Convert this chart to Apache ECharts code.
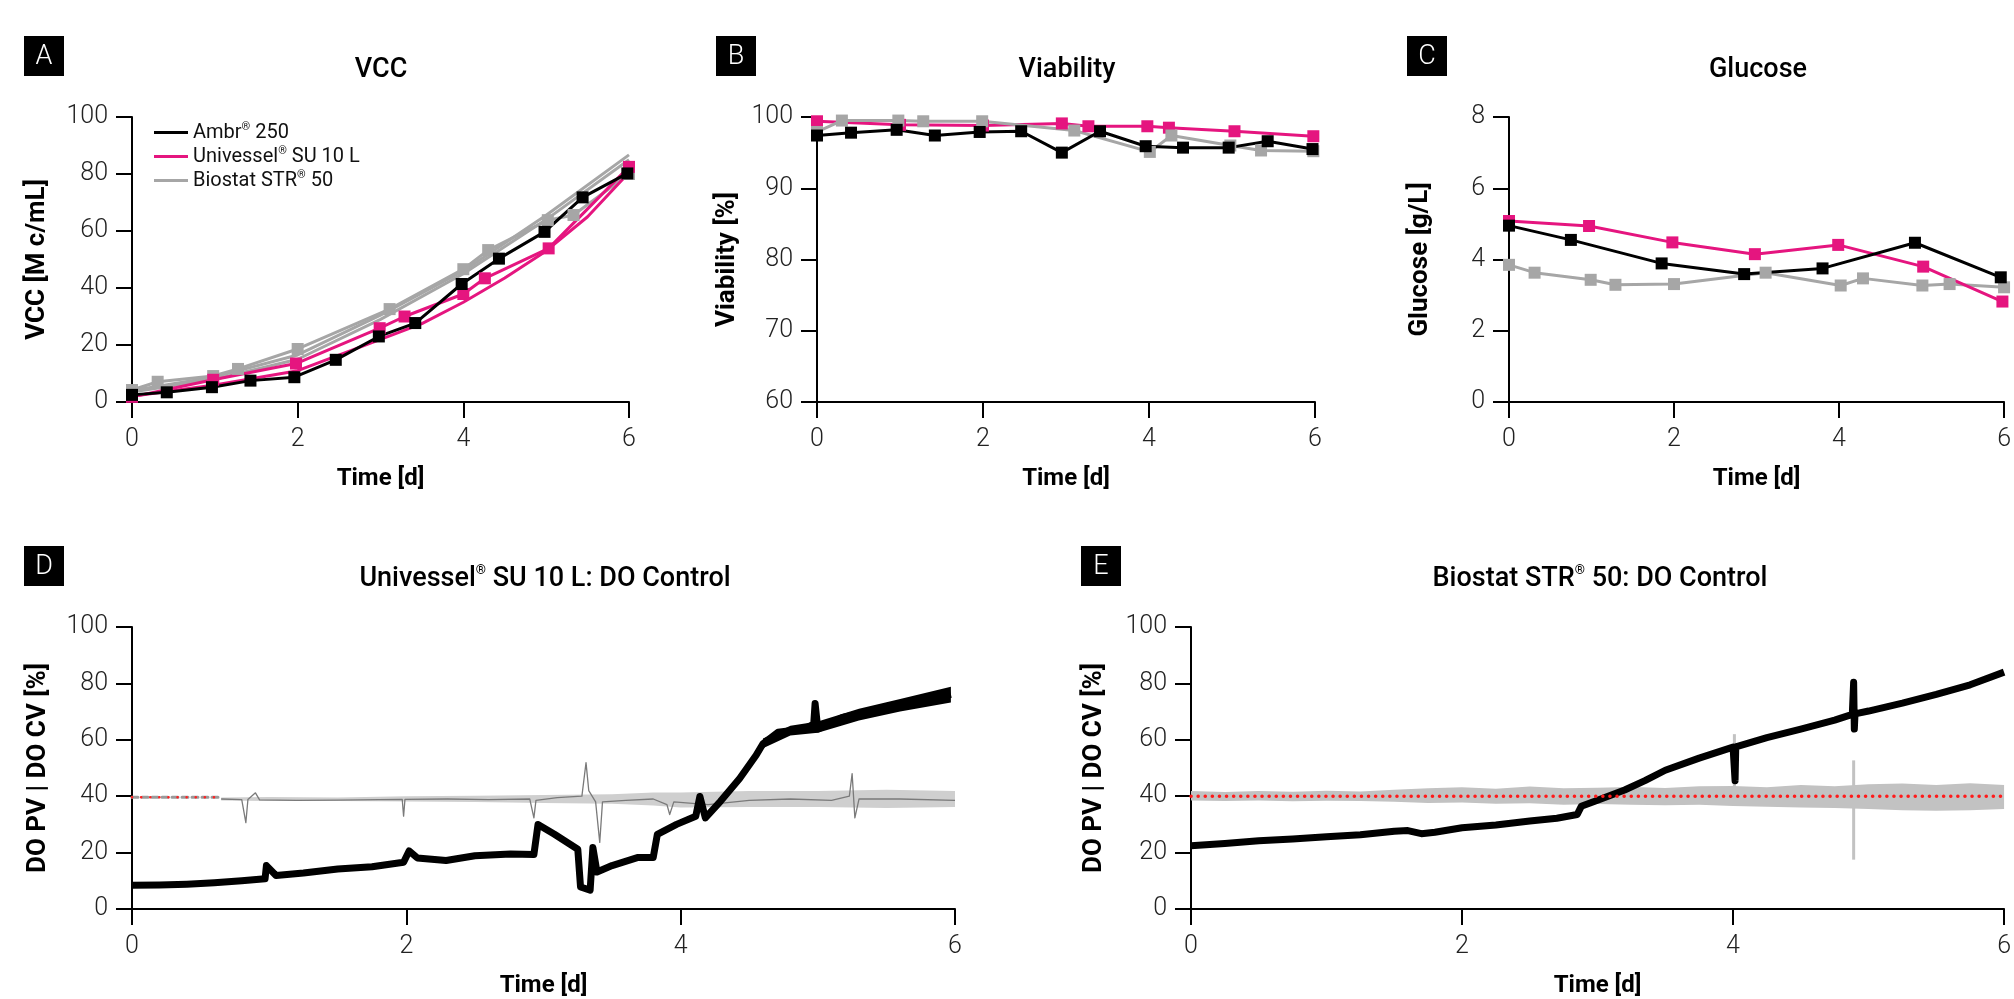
<!DOCTYPE html>
<html><head><meta charset="utf-8">
<script src="https://cdn.jsdelivr.net/npm/echarts@6/dist/echarts.min.js"></script>
<style>html,body{margin:0;padding:0;background:#fff}#c{width:2014px;height:999px}</style>
</head><body><div id="c"></div>
<script>
// ---------------- DATA ----------------
const timeTicks = [0, 2, 4, 6];
const vccTicks = [0, 20, 40, 60, 80, 100];
const viaTicks = [60, 70, 80, 90, 100];
const gluTicks = [0, 2, 4, 6, 8];
const doTicks = [0, 20, 40, 60, 80, 100];

const platformNames = ['Ambr® 250', 'Univessel® SU 10 L', 'Biostat STR® 50'];

// A: VCC [M c/mL]  [day, value]
const vccAmbr = [[0,2.5],[0.42,3.4],[0.965,5.2],[1.43,7.5],[1.96,8.7],[2.46,14.8],[2.98,23.0],[3.42,27.7],[3.98,41.4],[4.43,50.3],[4.98,59.7],[5.44,71.8],[5.98,80.2]];
const vccUni = [[0,1.8],[0.98,7.8],[1.98,13.5],[2.99,25.9],[3.29,30.0],[4.0,37.9],[4.26,43.4],[5.03,53.9],[6.0,82.5]];
const vccUniRep = [[0,2.0],[1,6.0],[2,11.0],[3,22.0],[3.5,27.5],[4,35.0],[4.5,43.5],[5,53.0],[5.5,65.0],[6,80.5]];
const vccBio = [[0,4.2],[0.31,7.1],[0.98,9.1],[1.28,11.6],[2.0,18.6],[3.11,32.6],[4.0,46.6],[4.3,53.3],[5.02,63.8],[5.33,65.6],[6.0,80.0]];
const vccBioRepA = [[0,4.0],[1,8.8],[2,16.5],[3,30.5],[4,46.0],[5,65.5],[6,86.7]];
const vccBioRepB = [[0,3.5],[1,8.0],[2,15.0],[3,29.0],[4,45.0],[5,64.0],[6,85.0]];

// B: Viability [%]
const viaAmbr = [[0,97.4],[0.41,97.8],[0.96,98.2],[1.42,97.4],[1.96,97.9],[2.46,98.0],[2.95,95.0],[3.41,98.0],[3.96,95.9],[4.41,95.7],[4.96,95.7],[5.43,96.6],[5.97,95.5]];
const viaUni = [[0,99.4],[1,98.9],[2,98.8],[2.95,99.1],[3.27,98.7],[3.98,98.7],[4.24,98.5],[5.03,98.0],[5.98,97.3]];
const viaBio = [[0,97.9],[0.3,99.5],[0.98,99.5],[1.28,99.4],[1.99,99.4],[3.1,98.1],[4.01,95.1],[4.27,97.4],[4.98,96.0],[5.35,95.3],[5.98,95.2]];

// C: Glucose [g/L]
const gluAmbr = [[0,4.95],[0.75,4.55],[1.85,3.89],[2.85,3.59],[3.8,3.75],[4.92,4.47],[5.96,3.50]];
const gluUni = [[0,5.08],[0.97,4.94],[1.98,4.48],[2.98,4.15],[3.99,4.41],[5.02,3.80],[5.98,2.82]];
const gluBio = [[0,3.85],[0.31,3.63],[0.99,3.43],[1.29,3.29],[2.0,3.31],[3.11,3.63],[4.02,3.27],[4.29,3.47],[5.01,3.27],[5.34,3.31],[6.0,3.22]];

// D: Univessel SU 10 L DO control
const dPv = [[0,8.4],[0.2,8.5],[0.4,8.8],[0.6,9.3],[0.8,10.0],[0.97,10.7],[0.98,15.4],[1.05,11.9],[1.25,12.8],[1.5,14.2],[1.75,15.0],[1.98,16.6],[2.02,20.6],[2.08,18.1],[2.29,17.2],[2.5,18.9],[2.76,19.5],[2.93,19.3],[2.96,30.0],[3.08,26.5],[3.25,21.2],[3.27,7.8],[3.34,6.7],[3.36,21.8],[3.39,13.1],[3.5,15.4],[3.69,18.3],[3.8,18.3],[3.83,26.5],[3.97,30.0],[4.11,32.9],[4.14,39.9],[4.18,32.3],[4.29,38.2],[4.43,46.3],[4.55,54.5],[4.6,58.6],[4.71,62.7],[4.9,63.8],[4.97,65.6],[4.98,72.9],[5.0,63.8],[5.18,67.9],[5.46,70.8],[5.73,73.2],[5.97,76.1]];
const dPvBand = [[4.6,57.0,60.5],[4.8,61.5,65.0],[5.0,62.5,66.5],[5.3,66.8,71.0],[5.6,70.0,74.5],[5.97,73.2,78.8]];
const dCv = [[0.65,39.0],[0.8,38.8],[0.83,30.6],[0.845,38.8],[0.9,41.2],[0.93,38.7],[1.2,38.5],[1.5,38.6],[1.8,38.8],[1.97,38.9],[1.98,32.9],[1.99,38.9],[2.3,39.0],[2.6,38.8],[2.9,39.0],[2.93,32.3],[2.945,38.5],[3.1,39.5],[3.28,40.0],[3.31,51.9],[3.33,42.0],[3.38,38.0],[3.41,23.6],[3.43,38.0],[3.6,38.5],[3.8,39.0],[3.9,37.0],[3.92,33.5],[3.95,38.0],[4.2,37.0],[4.5,38.5],[4.8,39.0],[5.1,38.5],[5.23,40.0],[5.25,48.0],[5.27,32.3],[5.3,39.0],[5.6,39.0],[6.0,38.5]];
const dCvBand = [[0.65,38.5,39.5],[1.0,38.3,39.7],[1.5,38.3,39.5],[2.0,38.1,40.0],[2.5,37.9,40.2],[3.0,37.6,40.4],[3.5,37.3,40.7],[3.8,36.7,41.3],[4.0,36.0,41.3],[4.5,36.2,41.8],[5.0,36.2,41.8],[5.5,35.8,42.3],[6.0,36.2,41.8]];
const dSetpoint = [[0,39.6],[0.65,39.6]];

// E: Biostat STR 50 DO control
const ePv = [[0,22.4],[0.25,23.2],[0.5,24.2],[0.75,24.8],[1.0,25.6],[1.25,26.3],[1.5,27.6],[1.6,27.8],[1.7,26.7],[1.8,27.2],[2.0,28.8],[2.25,29.8],[2.5,31.2],[2.7,32.2],[2.85,33.5],[2.88,36.4],[3.0,38.6],[3.2,42.2],[3.35,45.5],[3.5,49.2],[3.75,53.5],[4.0,57.4],[4.01,57.4],[4.015,45.5],[4.02,57.5],[4.25,60.8],[4.5,63.8],[4.75,67.0],[4.88,69.0],[4.89,80.4],[4.895,63.8],[4.9,69.2],[5.0,70.2],[5.25,73.0],[5.5,76.1],[5.75,79.5],[6.0,84.0]];
const eCvBand = [[0,38.5,41.8],[0.25,38.3,41.5],[0.5,38.5,41.8],[0.75,38.2,41.6],[1.0,38.4,41.9],[1.25,38.3,41.7],[1.5,38.0,42.3],[1.75,37.6,42.8],[2.0,37.8,43.2],[2.25,37.3,42.6],[2.5,37.5,43.4],[2.75,37.0,42.8],[3.0,37.2,43.0],[3.25,37.0,43.3],[3.5,36.8,42.9],[3.75,37.0,43.5],[4.0,36.5,43.6],[4.25,36.3,43.2],[4.5,36.0,44.0],[4.75,35.8,43.5],[5.0,35.5,44.2],[5.25,35.0,44.5],[5.5,34.8,44.0],[5.75,35.0,44.6],[6.0,35.5,44.0]];
const eCvSpikes = [[4.01,40,62],[4.89,17.5,52.7]];
const eSetpoint = [[0,40],[6,40]];

// ---------------- STYLE ----------------
const FONT = 'Roboto, "Noto Sans", "DejaVu Sans", sans-serif';
const BLACK = '#000000', PINK = '#e5157f', GREY = '#a6a6a6';

const grids = [
  {left:132, top:117, width:497, height:285},
  {left:817, top:117, width:498, height:285},
  {left:1509, top:117, width:496, height:285},
  {left:132, top:627, width:823, height:285},
  {left:1191, top:627, width:814, height:285}
];

function mkX(i) {
  return {type:'value', gridIndex:i, min:timeTicks[0], max:timeTicks[timeTicks.length-1], interval:timeTicks[1]-timeTicks[0],
    name:'Time [d]', nameLocation:'middle', nameGap:65,
    nameTextStyle:{fontFamily:FONT, fontSize:24, fontWeight:'bold', color:'#000'},
    axisLine:{onZero:false, lineStyle:{color:'#000', width:2}},
    axisTick:{length:16, lineStyle:{color:'#000', width:2}},
    axisLabel:{margin:25, fontFamily:FONT, fontSize:25, fontWeight:300, color:'#222'},
    splitLine:{show:false}};
}
function mkY(i, name, ticks, gap) {
  return {type:'value', gridIndex:i, min:ticks[0], max:ticks[ticks.length-1], interval:ticks[1]-ticks[0],
    name:name, nameLocation:'middle', nameGap:gap,
    nameTextStyle:{fontFamily:FONT, fontSize:26, fontWeight:'bold', color:'#000'},
    axisLine:{onZero:false, lineStyle:{color:'#000', width:2}},
    axisTick:{length:16, lineStyle:{color:'#000', width:2}},
    axisLabel:{margin:24, fontFamily:FONT, fontSize:25, fontWeight:300, color:'#222'},
    splitLine:{show:false}};
}
function mk(i, name, data, color, marker) {
  return {type:'line', name:name, xAxisIndex:i, yAxisIndex:i, data:data, silent:true,
    symbol: marker ? 'rect' : 'none', symbolSize:12, showSymbol: !!marker,
    lineStyle:{color:color, width:3}, itemStyle:{color:color}};
}
function trace(i, name, data, color, width) {
  return {type:'line', name:name, xAxisIndex:i, yAxisIndex:i, data:data, silent:true, symbol:'none', showSymbol:false,
    lineStyle:{color:color, width:width, join:'round'}, itemStyle:{color:color}};
}
function band(i, name, data, color) {
  return {type:'custom', name:name, xAxisIndex:i, yAxisIndex:i, data:data, silent:true, encode:{x:0, y:[1,2]},
    renderItem:function(params, api){
      if (params.dataIndex !== 0) return null;
      const pts = [];
      for (let k = 0; k < data.length; k++) pts.push(api.coord([data[k][0], data[k][2]]));
      for (let k = data.length-1; k >= 0; k--) pts.push(api.coord([data[k][0], data[k][1]]));
      return {type:'polygon', shape:{points:pts}, style:{fill:color}};
    }};
}
function spikes(i, name, data, color, width) {
  return {type:'custom', name:name, xAxisIndex:i, yAxisIndex:i, data:data, silent:true, encode:{x:0, y:[1,2]},
    renderItem:function(params, api){
      const a = api.coord([api.value(0), api.value(1)]);
      const b = api.coord([api.value(0), api.value(2)]);
      return {type:'line', shape:{x1:a[0], y1:a[1], x2:b[0], y2:b[1]}, style:{stroke:color, lineWidth:width}};
    }};
}
function dotted(i, name, data, color, width, dash) {
  return {type:'line', name:name, xAxisIndex:i, yAxisIndex:i, data:data, silent:true, symbol:'none', showSymbol:false,
    lineStyle:{color:color, width:width, type:dash, cap:'round'}};
}

const series = [
  // A
  mk(0, platformNames[2], vccBioRepB, GREY, false),
  mk(0, platformNames[2], vccBioRepA, GREY, false),
  mk(0, platformNames[2], vccBio, GREY, true),
  mk(0, platformNames[1], vccUniRep, PINK, false),
  mk(0, platformNames[1], vccUni, PINK, true),
  mk(0, platformNames[0], vccAmbr, BLACK, true),
  // B
  mk(1, platformNames[1], viaUni, PINK, true),
  mk(1, platformNames[2], viaBio, GREY, true),
  mk(1, platformNames[0], viaAmbr, BLACK, true),
  // C
  mk(2, platformNames[2], gluBio, GREY, true),
  mk(2, platformNames[1], gluUni, PINK, true),
  mk(2, platformNames[0], gluAmbr, BLACK, true),
  // D
  band(3, 'DO CV band D', dCvBand, '#cfcfcf'),
  trace(3, 'DO CV D', dCv, '#7a7a7a', 1.3),
  dotted(3, 'DO SP D grey', dSetpoint, '#9a9a9a', 3, [6, 4]),
  dotted(3, 'DO SP D', dSetpoint, '#ff2020', 2.5, [0.1, 9]),
  band(3, 'DO PV band D', dPvBand, '#000'),
  trace(3, 'DO PV D', dPv, '#000', 7),
  // E
  band(4, 'DO CV band E', eCvBand, '#c2c2c2'),
  spikes(4, 'DO CV spikes E', eCvSpikes, '#c2c2c2', 3),
  trace(4, 'DO PV E', ePv, '#000', 7),
  dotted(4, 'DO SP E', eSetpoint, '#ff1a1a', 3.5, [0.1, 7])
];

const boxes = [
  {t:'A', x:24, y:36}, {t:'B', x:716, y:36}, {t:'C', x:1407, y:36},
  {t:'D', x:24, y:546}, {t:'E', x:1081, y:546}
];
const titles = [
  {t:'VCC', x:381, y:70}, {t:'Viability', x:1067, y:70}, {t:'Glucose', x:1758, y:70},
  {t:'Univessel{r|®} SU 10 L: DO Control', x:545, y:579},
  {t:'Biostat STR{r|®} 50: DO Control', x:1600, y:579}
];

const graphic = [];
boxes.forEach(b => {
  graphic.push({type:'rect', shape:{x:b.x, y:b.y, width:40, height:40}, style:{fill:'#000'}, silent:true});
  graphic.push({type:'text', x:b.x+20, y:b.y+21, silent:true,
    style:{text:b.t, fill:'#fff', fontFamily:FONT, fontSize:27, fontWeight:300, align:'center', verticalAlign:'middle'}});
});
titles.forEach(t => {
  graphic.push({type:'text', x:t.x, y:t.y, silent:true,
    style:{text:t.t, fill:'#000', fontFamily:FONT, fontSize:27, fontWeight:500, lineHeight:30,
      align:'center', verticalAlign:'middle',
      rich:{r:{fontSize:13, fontFamily:FONT, fontWeight:500, fill:'#000', verticalAlign:'top', lineHeight:16}}}});
});

const option = {
  backgroundColor:'#fff',
  animation:false,
  grid: grids,
  xAxis: grids.map((g,i) => mkX(i)),
  yAxis: [
    mkY(0, 'VCC [M c/mL]', vccTicks, 82),
    mkY(1, 'Viability [%]', viaTicks, 77),
    mkY(2, 'Glucose [g/L]', gluTicks, 76),
    mkY(3, 'DO PV | DO CV [%]', doTicks, 81),
    mkY(4, 'DO PV | DO CV [%]', doTicks, 84)
  ],
  legend: {
    data: platformNames, orient:'vertical', left:149, top:117, itemGap:3,
    icon:'rect', itemWidth:34, itemHeight:3, selectedMode:false,
    formatter: n => n.replace('®', '{r|®}'),
    textStyle:{fontFamily:FONT, fontSize:20, color:'#111', lineHeight:21,
      rich:{r:{fontSize:11, fontFamily:FONT, color:'#111', verticalAlign:'top', lineHeight:11}}}
  },
  series: series,
  graphic: graphic
};

const chart = echarts.init(document.getElementById('c'), null, {renderer:'canvas', width:2014, height:999});
chart.setOption(option);
</script>
</body></html>
